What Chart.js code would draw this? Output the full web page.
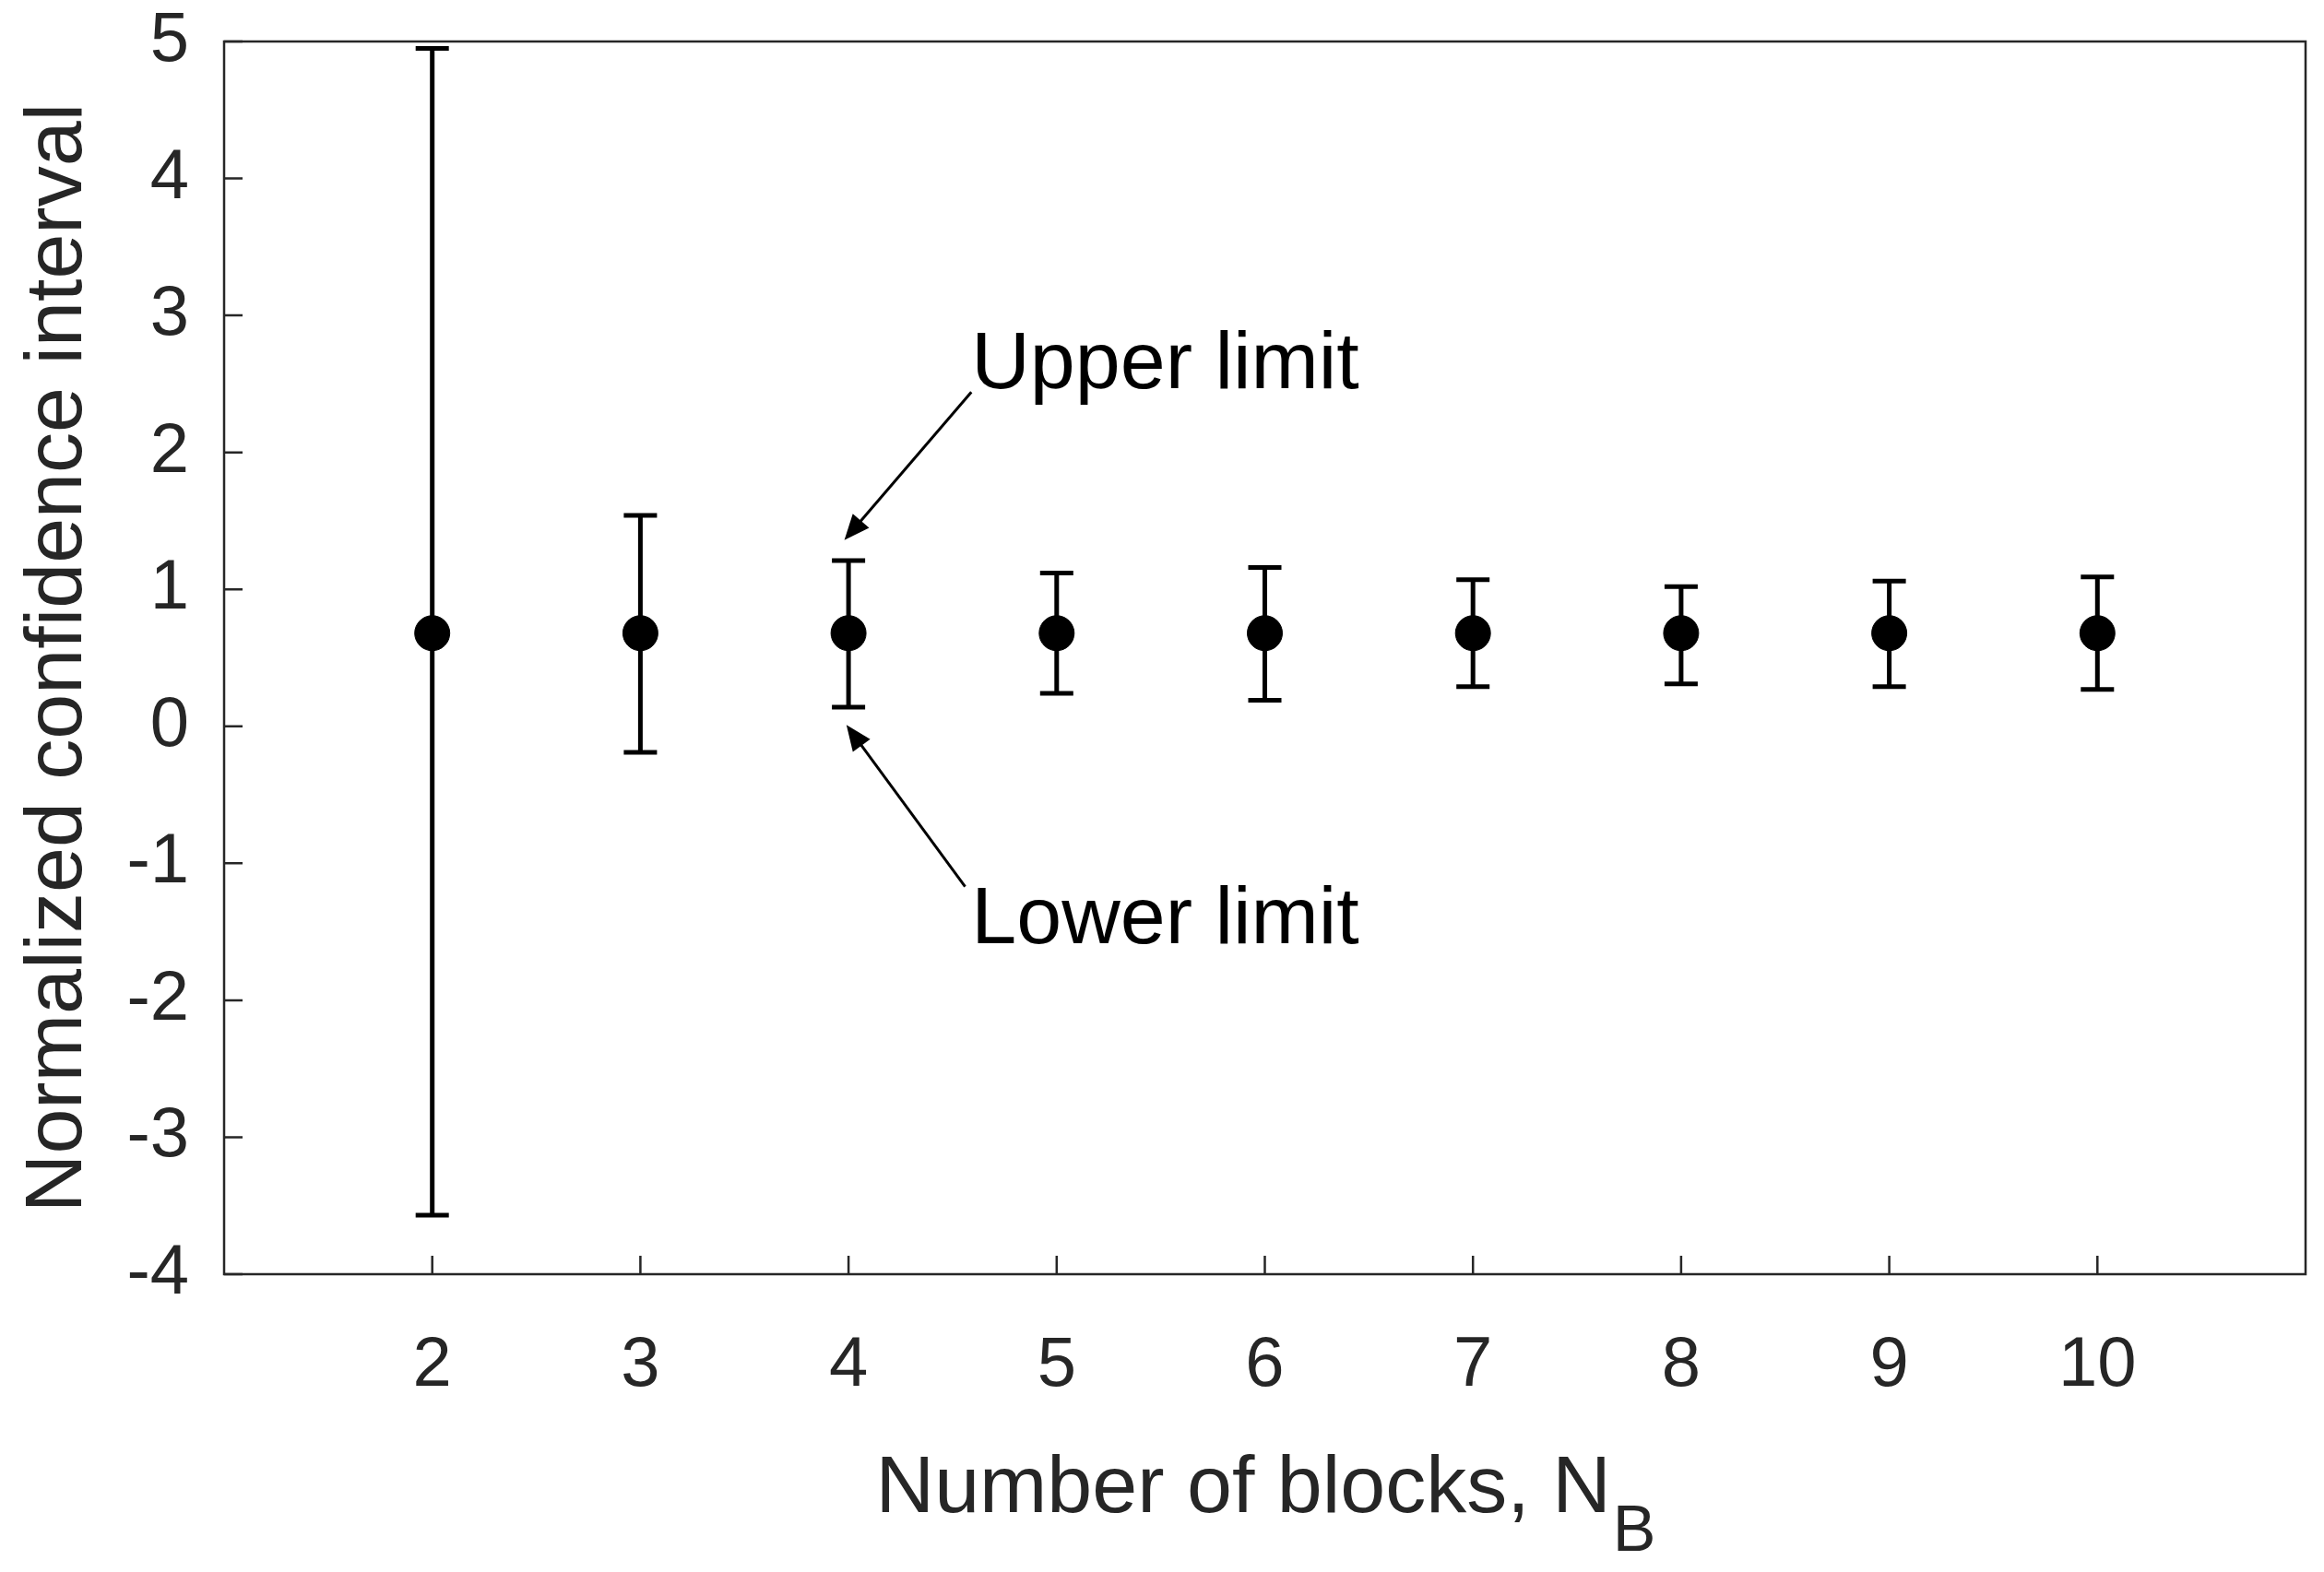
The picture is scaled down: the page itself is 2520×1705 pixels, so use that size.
<!DOCTYPE html>
<html><head><meta charset="utf-8">
<script src="https://cdn.jsdelivr.net/npm/chart.js@4"></script>
<style>html,body{margin:0;background:#fff}</style></head>
<body><canvas id="c" width="2520" height="1705"></canvas>
<script>
const blocks = [2,3,4,5,6,7,8,9,10];
const means  = [0.68,0.68,0.68,0.68,0.68,0.68,0.68,0.68,0.68];
const upper  = [4.95,1.54,1.21,1.12,1.16,1.07,1.02,1.06,1.09];
const lower  = [-3.57,-0.19,0.14,0.24,0.19,0.29,0.31,0.29,0.27];
const yTicks = [-4,-3,-2,-1,0,1,2,3,4,5];
const annotations = [
  {text:'Upper limit', tx:4.59, ty:2.63, ax0:4.59, ay0:2.44, ax1:3.98, ay1:1.36},
  {text:'Lower limit', tx:4.59, ty:-1.42, ax0:4.56, ay0:-1.17, ax1:3.99, ay1:0.01}
];
const FONT = '"Liberation Sans", Arial, sans-serif';
const TXT = '#262626';

const plug = {
  id:'custom',
  afterDatasetsDraw(chart){
    const ctx = chart.ctx, xs = chart.scales.x, ys = chart.scales.y, a = chart.chartArea;
    ctx.save();
    ctx.strokeStyle='#000'; ctx.lineWidth=5;
    blocks.forEach((b,i)=>{
      const x=xs.getPixelForValue(b), yu=ys.getPixelForValue(upper[i]), yl=ys.getPixelForValue(lower[i]);
      ctx.beginPath();
      ctx.moveTo(x,yu); ctx.lineTo(x,yl);
      ctx.moveTo(x-18,yu); ctx.lineTo(x+18,yu);
      ctx.moveTo(x-18,yl); ctx.lineTo(x+18,yl);
      ctx.stroke();
    });
    ctx.strokeStyle='#262626'; ctx.lineWidth=2.5;
    ctx.strokeRect(a.left,a.top,a.right-a.left,a.bottom-a.top);
    ctx.beginPath();
    blocks.forEach(b=>{const x=xs.getPixelForValue(b); ctx.moveTo(x,a.bottom); ctx.lineTo(x,a.bottom-20);});
    yTicks.forEach(t=>{const y=ys.getPixelForValue(t); ctx.moveTo(a.left,y); ctx.lineTo(a.left+20,y);});
    ctx.stroke();
    ctx.fillStyle='#000'; ctx.strokeStyle='#000'; ctx.lineWidth=3;
    ctx.font='88px '+FONT; ctx.textBaseline='middle'; ctx.textAlign='left';
    annotations.forEach(an=>{
      ctx.fillText(an.text, xs.getPixelForValue(an.tx), ys.getPixelForValue(an.ty));
      const x0=xs.getPixelForValue(an.ax0), y0=ys.getPixelForValue(an.ay0);
      const x1=xs.getPixelForValue(an.ax1), y1=ys.getPixelForValue(an.ay1);
      const ang=Math.atan2(y1-y0,x1-x0), L=30, W=0.4;
      const bx=x1-L*Math.cos(ang)*0.9, by=y1-L*Math.sin(ang)*0.9;
      ctx.beginPath(); ctx.moveTo(x0,y0); ctx.lineTo(bx,by); ctx.stroke();
      ctx.beginPath(); ctx.moveTo(x1,y1);
      ctx.lineTo(x1-L*Math.cos(ang-W), y1-L*Math.sin(ang-W));
      ctx.lineTo(x1-L*Math.cos(ang+W), y1-L*Math.sin(ang+W));
      ctx.closePath(); ctx.fill();
    });
    ctx.fillStyle=TXT; ctx.font='88px '+FONT;
    ctx.textAlign='left'; ctx.textBaseline='alphabetic';
    const t='Number of blocks, N';
    const w=ctx.measureText(t).width; ctx.font='70px '+FONT;
    const wb=ctx.measureText('B').width;
    const cx=(a.left+a.right)/2; const sx=cx-(w+wb)/2;
    ctx.font='88px '+FONT; ctx.fillText(t,sx,1640);
    ctx.font='70px '+FONT; ctx.fillText('B',sx+w+2,1682);
    ctx.save(); ctx.translate(88,(a.top+a.bottom)/2); ctx.rotate(-Math.PI/2);
    ctx.font='88px '+FONT; ctx.textAlign='center'; ctx.fillText('Normalized confidence interval',0,0);
    ctx.restore();
    ctx.restore();
  }
};

new Chart(document.getElementById('c'),{
  type:'scatter',
  data:{datasets:[{data:blocks.map((b,i)=>({x:b,y:means[i]})),
    backgroundColor:'#000',borderColor:'#000',pointRadius:19,pointHoverRadius:19}]},
  options:{
    responsive:false, devicePixelRatio:1, animation:false,
    layout:{padding:{top:45,right:19,left:0,bottom:0}},
    plugins:{legend:{display:false},tooltip:{enabled:false}},
    scales:{
      x:{type:'linear',min:1,max:11,
        afterBuildTicks:s=>{s.ticks=blocks.map(v=>({value:v}));},
        afterFit:s=>{s.height=323; s.paddingLeft=0; s.paddingRight=0;},
        grid:{display:false},border:{display:false},
        ticks:{color:TXT,font:{family:FONT,size:76},padding:46}},
      y:{min:-4,max:5,
        afterBuildTicks:s=>{s.ticks=yTicks.map(v=>({value:v}));},
        afterFit:s=>{s.width=243; s.paddingTop=0; s.paddingBottom=0;},
        grid:{display:false},border:{display:false},
        ticks:{color:TXT,font:{family:FONT,size:76},padding:30}}
    }
  },
  plugins:[plug]
});
</script></body></html>
